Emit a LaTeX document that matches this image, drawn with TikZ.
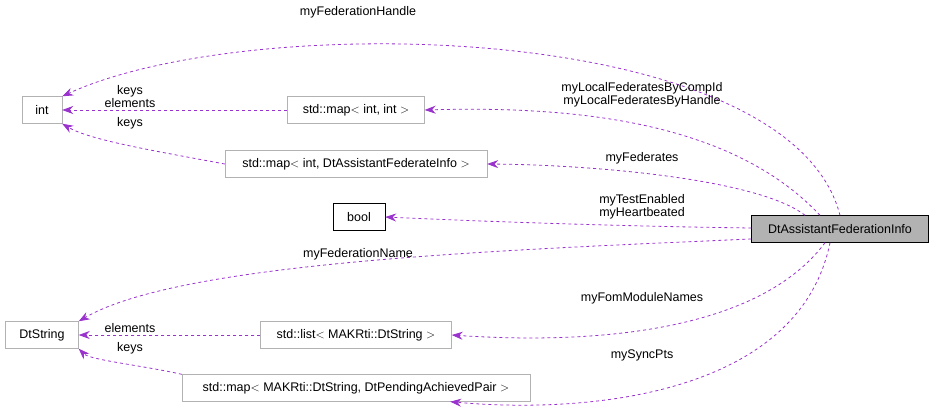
\documentclass[tikz,border=0pt]{standalone}
\usepackage{fontspec}
\setmainfont{Liberation Sans}
\usetikzlibrary{arrows.meta}
\definecolor{relcol}{RGB}{154,50,205}
\tikzset{
  cls/.style={draw=black!30, fill=white, inner sep=0pt, minimum height=27pt, font=\fontsize{12.5}{14}\selectfont},
  rel/.style={draw=relcol, dashed, line width=0.8pt, -{Stealth[length=11pt,width=8pt]}},
  lbl/.style={font=\fontsize{12.5}{13}\selectfont, align=center, inner sep=0pt}
}
\begin{document}
\begin{tikzpicture}[x=1pt,y=-1pt]
  \useasboundingbox (0,0) rectangle (933,412);
  % classes
  \node[cls, minimum width=40pt] (int) at (42,110) {int};
  \node[cls, minimum width=137pt] (mapii) at (356,110) {std::map$<$ int, int $>$};
  \node[cls, minimum width=262pt] (mapfi) at (356,164) {std::map$<$ int, DtAssistantFederateInfo $>$};
  \node[cls, draw=black, minimum width=52pt] (bool) at (359,217) {bool};
  \node[cls, draw=black, fill=black!30, minimum width=177pt] (fi) at (840,229) {DtAssistantFederationInfo};
  \node[cls, minimum width=73pt] (dts) at (42,335) {DtString};
  \node[cls, minimum width=191pt] (list) at (356,335) {std::list$<$ MAKRti::DtString $>$};
  \node[cls, minimum width=348pt] (mapsp) at (356,388) {std::map$<$ MAKRti::DtString, DtPendingAchievedPair $>$};
  % members
  \draw[rel] (fi.north) .. controls (790,20) and (250,10) .. (int.north east);
  \node[lbl] at (358,12) {myFederationHandle};
  \draw[rel] (fi.north) ++(-20,0) .. controls (740,130) and (600,105) .. (mapii.east);
  \node[lbl] at (642,95) {myLocalFederatesByCompId\\myLocalFederatesByHandle};
  \draw[rel] (fi.north) ++(-35,0) .. controls (760,180) and (600,165) .. (mapfi.east);
  \node[lbl] at (642,158) {myFederates};
  \draw[rel] (fi.west) ++(0,-1) .. controls (600,226) and (450,220) .. (bool.east);
  \node[lbl] at (642,207) {myTestEnabled\\myHeartbeated};
  \draw[rel] (fi.west) ++(0,10) .. controls (500,250) and (180,262) .. (dts.north east);
  \node[lbl] at (358,254) {myFederationName};
  \draw[rel] (fi.south) ++(-15,0) .. controls (760,330) and (600,345) .. (list.east);
  \node[lbl] at (642,298) {myFomModuleNames};
  \draw[rel] (fi.south) ++(-10,0) .. controls (800,390) and (600,415) .. ([xshift=-80pt]mapsp.south east);
  \node[lbl] at (642,355) {mySyncPts};
  % templates
  \draw[rel] (mapii.west) -- (int.east);
  \node[lbl] at (130,97) {keys\\elements};
  \draw[rel] (mapfi.west) .. controls (150,150) and (90,140) .. (int.south east);
  \node[lbl] at (130,123) {keys};
  \draw[rel] (list.west) -- (dts.east);
  \node[lbl] at (130,328) {elements};
  \draw[rel] (mapsp.north west) .. controls (140,365) and (90,360) .. (dts.south east);
  \node[lbl] at (130,348) {keys};
\end{tikzpicture}
\end{document}
